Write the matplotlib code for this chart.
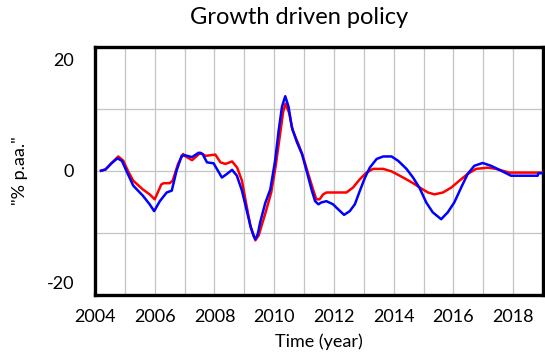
import matplotlib
matplotlib.use("Agg")
import matplotlib.pyplot as plt
import matplotlib.transforms as mtransforms
import numpy as np

# ---------------------------------------------------------------------------
# Data
# ---------------------------------------------------------------------------
BLUE_T = [2004.2, 2004.35, 2004.55, 2004.75, 2004.9, 2005.05, 2005.28, 2005.6,
          2005.83, 2005.98, 2006.17, 2006.4, 2006.57, 2006.73, 2006.9, 2007.0,
          2007.25, 2007.47, 2007.6, 2007.75, 2007.97, 2008.08, 2008.25, 2008.42,
          2008.59, 2008.75, 2008.92, 2009.03, 2009.14, 2009.22, 2009.31, 2009.37,
          2009.45, 2009.53, 2009.7, 2009.87, 2010.03, 2010.15, 2010.26, 2010.37,
          2010.48, 2010.59, 2010.76, 2010.93, 2011.1, 2011.26, 2011.37, 2011.48,
          2011.58, 2011.75, 2011.97, 2012.14, 2012.34, 2012.53, 2012.7, 2012.87,
          2013.04, 2013.2, 2013.43, 2013.65, 2013.93, 2014.15, 2014.43, 2014.65,
          2014.87, 2015.09, 2015.31, 2015.59, 2015.81, 2016.03, 2016.26, 2016.48,
          2016.7, 2016.98, 2017.26, 2017.6, 2017.93, 2018.82, 2018.85, 2019.0]
BLUE_V = [0.0, 0.2, 1.2, 2.0, 1.6, 0.0, -2.4, -4.0,
          -5.4, -6.5, -4.9, -3.5, -3.2, 0.0, 2.4, 2.5,
          2.2, 2.9, 2.7, 1.35, 1.2, 0.3, -1.1, -0.5,
          0.15, -0.8, -3.2, -5.4, -7.6, -9.2, -10.5, -11.0,
          -10.2, -8.3, -5.2, -3.0, 1.6, 6.5, 10.3, 12.0,
          10.3, 7.0, 4.6, 2.7, -0.3, -3.2, -4.9, -5.4,
          -5.1, -4.9, -5.4, -6.2, -7.1, -6.5, -5.4, -3.2,
          -1.1, 0.5, 1.9, 2.3, 2.3, 1.6, 0.3, -1.1,
          -2.8, -5.1, -6.7, -7.8, -6.7, -5.1, -2.7, -0.5,
          0.8, 1.25, 0.8, 0.0, -0.8, -0.8, -0.4, -0.4]

RED_T = [2004.2, 2004.35, 2004.55, 2004.78, 2004.95, 2005.1, 2005.28, 2005.6,
         2005.83, 2006.0, 2006.22, 2006.3, 2006.5, 2006.6, 2006.78, 2006.95,
         2007.0, 2007.25, 2007.53, 2007.7, 2008.03, 2008.2, 2008.37, 2008.59,
         2008.76, 2008.92, 2009.05, 2009.2, 2009.37, 2009.48, 2009.7, 2009.9,
         2010.05, 2010.2, 2010.3, 2010.38, 2010.5, 2010.62, 2010.8, 2010.95,
         2011.12, 2011.3, 2011.41, 2011.52, 2011.64, 2011.75, 2012.42, 2012.64,
         2012.87, 2013.09, 2013.31, 2013.65, 2013.93, 2014.32, 2014.65, 2014.87,
         2015.15, 2015.37, 2015.65, 2015.93, 2016.2, 2016.48, 2016.76, 2017.15,
         2017.43, 2017.87, 2019.0]
RED_V = [0.0, 0.2, 1.2, 2.3, 1.6, 0.0, -1.6, -3.0,
         -3.8, -4.6, -2.2, -2.0, -2.0, -1.6, 1.1, 2.7,
         2.4, 1.7, 2.9, 2.4, 2.6, 1.35, 1.1, 1.5,
         0.5, -1.6, -5.0, -8.8, -11.2, -10.4, -6.9, -3.5,
         0.8, 6.0, 9.5, 10.8, 9.3, 6.5, 4.4, 2.5,
         -0.2, -3.0, -4.6, -4.6, -3.8, -3.5, -3.5, -2.7,
         -1.35, -0.3, 0.3, 0.3, -0.1, -1.1, -2.0, -2.7,
         -3.5, -3.8, -3.5, -2.7, -1.6, -0.5, 0.3, 0.5,
         0.3, -0.3, -0.3]

X_LABEL_YEARS = [2004, 2006, 2008, 2010, 2012, 2014, 2016, 2018]
Y_TICKS = [20, 0, -20]

FONT = ["Lato", "DejaVu Sans"]

# ---------------------------------------------------------------------------
# Plot
# ---------------------------------------------------------------------------
fig = plt.figure(figsize=(5.45, 3.53), dpi=100)
ax = fig.add_axes([95 / 545, 1 - 295 / 353, 448 / 545, (295 - 46.5) / 353])

ax.plot(RED_T, RED_V, color="#ff0000", lw=1.8, zorder=3)
ax.plot(BLUE_T, BLUE_V, color="#0000ff", lw=1.8, zorder=4)

ax.set_xlim(2004, 2019)
ax.set_ylim(-20, 20)

ax.set_xticks(X_LABEL_YEARS)
ax.set_xticklabels([str(y) for y in X_LABEL_YEARS], fontsize=13, family=FONT)
ax.set_xticks(range(2005, 2019, 2), minor=True)
ax.set_yticks(Y_TICKS)
ax.set_yticklabels([str(v) for v in Y_TICKS], fontsize=13, family=FONT)
ax.set_yticks([-10, 10], minor=True)

ax.tick_params(which="both", length=0)
ax.tick_params(axis="x", pad=10)
ax.tick_params(axis="y", pad=15)
ax.grid(True, which="both", color="#c4c4c4", lw=0.9, zorder=0)

# nudge the outer y labels inward, as in the reference
shifts = {"20": -9, "-20": 9}
for lab in ax.get_yticklabels():
    dy = shifts.get(lab.get_text(), 0)
    if dy:
        off = mtransforms.ScaledTranslation(0, dy / 72, fig.dpi_scale_trans)
        lab.set_transform(lab.get_transform() + off)

for sp in ax.spines.values():
    sp.set_linewidth(2.4)
    sp.set_color("black")

fig.text(299 / 545, 1 - 18 / 353, "Growth driven policy", fontsize=17,
         family=FONT, ha="center", va="center")
ax.set_xlabel("Time (year)", fontsize=13, family=FONT, labelpad=6)
ax.set_ylabel('"% p.aa."', fontsize=13, family=FONT)
ax.yaxis.set_label_coords(-0.15, 0.5)

fig.savefig("out.png", dpi=100)
